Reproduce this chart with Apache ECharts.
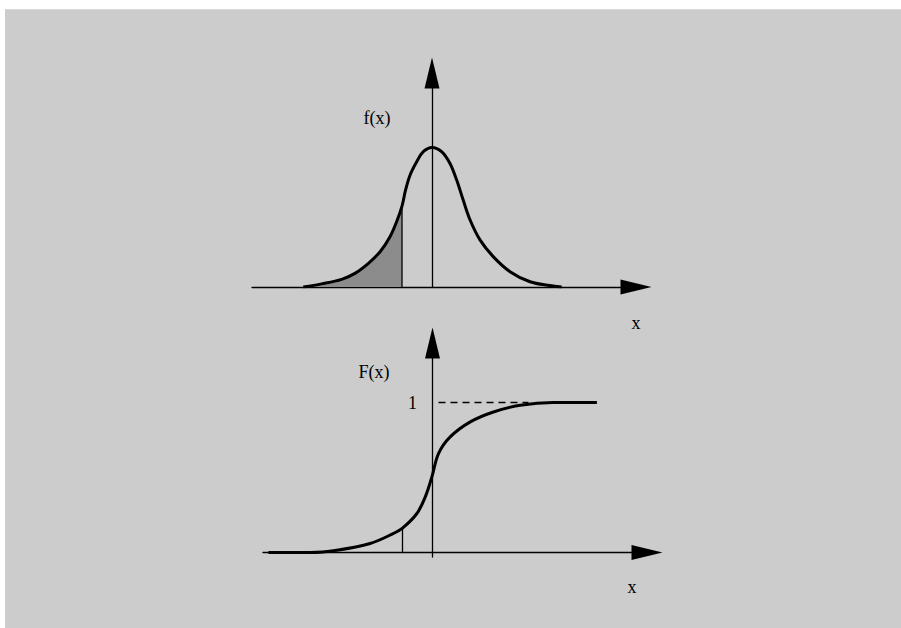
<!DOCTYPE html>
<html>
<head>
<meta charset="utf-8">
<script src="https://cdn.jsdelivr.net/npm/echarts@6/dist/echarts.min.js"></script>
<style>
  html, body { margin: 0; padding: 0; background: #ffffff; }
  #panel { position: absolute; left: 5px; top: 9px; width: 896px; height: 619px;
           background: #cccccc; border-top: 1px solid #d9d9d9; box-sizing: border-box; }
  #chart { position: absolute; left: 0; top: 0; width: 901px; height: 628px; }
</style>
</head>
<body>
<div id="panel"></div>
<div id="chart"></div>
<script>
// Density curve f(x): x in units of sigma, y as density
const pdfX = [-4.29, -3.68, -3.01, -2.57, -2.12, -1.73, -1.40, -1.18, -1.00, -0.88, -0.73, -0.51, -0.29, 0.00,
              0.32, 0.60, 0.82, 1.04, 1.27, 1.60, 2.04, 2.60, 3.27, 3.93, 4.32];
const pdfY = [0.000, 0.009, 0.022, 0.039, 0.068, 0.101, 0.144, 0.187, 0.232, 0.278, 0.321, 0.359, 0.388, 0.400,
              0.388, 0.354, 0.307, 0.249, 0.192, 0.135, 0.087, 0.044, 0.015, 0.004, 0.000];

// Distribution function F(x)
const cdfX = [-5.47, -4.08, -3.19, -2.08, -1.30, -1.00, -0.52, -0.24, -0.02, 0.20, 0.59, 1.26, 2.03, 2.92, 4.03, 5.48];
const cdfY = [0.000, 0.000, 0.015, 0.060, 0.127, 0.162, 0.260, 0.371, 0.504, 0.660, 0.771, 0.871, 0.937, 0.982, 1.000, 1.000];

// The point x = a where the shaded probability P(X <= a) ends
const cutoff = -1.0;
// Upper level of F(x), drawn dashed and labelled
const upperLevel = 1;
const upperLevelFrom = 0.2;
const upperLevelTo = 3.2;
const upperLevelLabel = '1';

const zip = (xs, ys) => xs.map((x, i) => [x, ys[i]]);
const pdfData = zip(pdfX, pdfY);
const cdfData = zip(cdfX, cdfY);
const shadedData = pdfData.filter(p => p[0] <= cutoff);
const pdfAtCut = pdfY[pdfX.indexOf(cutoff)];
const cdfAtCut = cdfY[cdfX.indexOf(cutoff)];

const serif = '"Liberation Serif", "DejaVu Serif", serif';
const textFont = '18px ' + serif;

function axisLine() {
  return {
    show: true, onZero: true,
    symbol: ['none', 'triangle'], symbolSize: [15, 31],
    lineStyle: { color: '#000', width: 1.3 }
  };
}
function plainAxis(extra) {
  return Object.assign({
    type: 'value',
    axisLine: axisLine(),
    axisTick: { show: false },
    axisLabel: { show: false },
    splitLine: { show: false }
  }, extra);
}
function label(text, x, y, align) {
  return { type: 'text', x: x, y: y, z: 10,
           style: { text: text, fill: '#000', font: textFont, align: align || 'center', verticalAlign: 'middle' } };
}

const chart = echarts.init(document.getElementById('chart'), null, { renderer: 'svg' });
chart.setOption({
  animation: false,
  backgroundColor: 'transparent',
  grid: [
    { left: 252, top: 73, width: 384, height: 214 },
    { left: 263, top: 343, width: 384, height: 214 }
  ],
  xAxis: [
    plainAxis({ gridIndex: 0, min: -6, max: 6.8 }),
    plainAxis({ gridIndex: 1, min: -5.65, max: 7.15 })
  ],
  yAxis: [
    plainAxis({ gridIndex: 0, min: 0, max: 0.6132 }),
    plainAxis({ gridIndex: 1, min: -0.03, max: 1.3967 })
  ],
  series: [
    {
      type: 'line', xAxisIndex: 0, yAxisIndex: 0, data: shadedData, smooth: 0.35,
      symbol: 'none', z: 1, lineStyle: { width: 0, opacity: 0 },
      areaStyle: { color: '#8c8c8c', opacity: 1 }
    },
    {
      type: 'line', xAxisIndex: 0, yAxisIndex: 0, data: [[cutoff, 0], [cutoff, pdfAtCut]],
      symbol: 'none', z: 2, lineStyle: { color: '#000', width: 1.3 }
    },
    {
      type: 'line', xAxisIndex: 0, yAxisIndex: 0, data: pdfData, smooth: 0.35,
      symbol: 'none', z: 3, lineStyle: { color: '#000', width: 3 }
    },
    {
      type: 'line', xAxisIndex: 1, yAxisIndex: 1, data: [[cutoff, 0], [cutoff, cdfAtCut]],
      symbol: 'none', z: 2, lineStyle: { color: '#000', width: 1.3 }
    },
    {
      type: 'line', xAxisIndex: 1, yAxisIndex: 1, data: [[upperLevelFrom, upperLevel], [upperLevelTo, upperLevel]],
      symbol: 'none', z: 2, lineStyle: { color: '#000', width: 1.3, type: [7, 5] }
    },
    {
      type: 'line', xAxisIndex: 1, yAxisIndex: 1, data: cdfData, smooth: 0.35,
      symbol: 'none', z: 3, lineStyle: { color: '#000', width: 3 }
    }
  ]
});

// Axis captions and the level label, placed next to the axes they describe
const levelPt = chart.convertToPixel({ xAxisIndex: 1, yAxisIndex: 1 }, [0, upperLevel]);
chart.setOption({
  graphic: [
    label('f(x)', 377, 118),
    label('x', 636, 323),
    label('F(x)', 374, 372),
    label('x', 632, 587),
    label(upperLevelLabel, levelPt[0] - 20, levelPt[1])
  ]
});
</script>
</body>
</html>
